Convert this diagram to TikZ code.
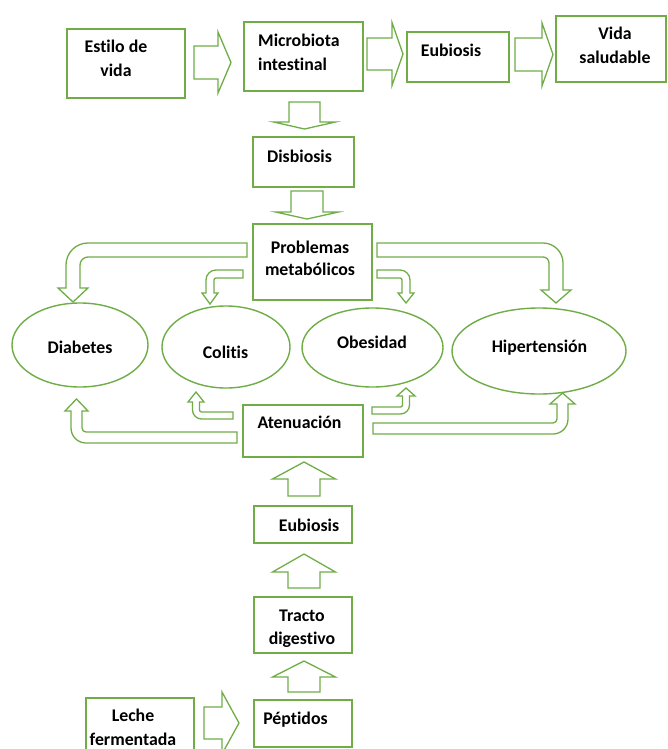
\documentclass[tikz,border=0pt]{standalone}
\usepackage{fontspec}
\setmainfont[Ligatures=NoCommon]{Carlito}
\usetikzlibrary{shapes.geometric}
\definecolor{gline}{RGB}{112,173,71}
\newcommand\myRArr[6]{\draw[blk] (#1,#4-#5) -- (#3,#4-#5) -- (#3,#4-#6) -- (#2,#4) -- (#3,#4+#6) -- (#3,#4+#5) -- (#1,#4+#5) -- cycle;}
\newcommand\myVArr[6]{\draw[blk] (#4-#5,#1) -- (#4-#5,#3) -- (#4-#6,#3) -- (#4,#2) -- (#4+#6,#3) -- (#4+#5,#3) -- (#4+#5,#1) -- cycle;}
\begin{document}
\begin{tikzpicture}[x=1pt,y=-1pt,
  box/.style={draw=gline,line width=1.5pt,fill=white},
  blk/.style={draw=gline,line width=1.3pt,line join=miter},
  ell/.style={draw=gline,line width=1.4pt,ellipse,inner sep=0pt},
  lbl/.style={font=\fontsize{17.8}{24}\selectfont\bfseries,inner sep=0pt,anchor=base,align=center},
  lbll/.style={font=\fontsize{17.8}{24}\selectfont\bfseries,inner sep=0pt,anchor=base west,align=left}]
\useasboundingbox (0,0) rectangle (667,749);
\clip (0,0) rectangle (667,749);
\fill[white] (0,0) rectangle (667,749);
% boxes
\draw[box] (67,29) rectangle (185,98) node[midway] (estbox) {};
\draw[box] (244,22) rectangle (363,91) node[midway] (micbox) {};
\draw[box] (407,32) rectangle (509,82) node[midway] (eub1box) {};
\draw[box] (556,16) rectangle (666,82) node[midway] (vidbox) {};
\draw[box] (253,137) rectangle (354,187) node[midway] (disbox) {};
\draw[box] (253,224) rectangle (372,300) node[midway] (probox) {};
\draw[box] (243,405) rectangle (363,457) node[midway] (atebox) {};
\draw[box] (254,506) rectangle (352,543) node[midway] (eub2box) {};
\draw[box] (254,597) rectangle (352,653) node[midway] (trabox) {};
\draw[box] (254,700) rectangle (352,747) node[midway] (pepbox) {};
\draw[box] (86,698) rectangle (194,770) node[midway] (lecbox) {};
% ellipses
\node[ell,minimum width=136pt,minimum height=84pt] (dia) at (80,345) {};
\node[ell,minimum width=128pt,minimum height=82pt] (col) at (226,347) {};
\node[ell,minimum width=141pt,minimum height=79pt] (obe) at (372.5,347.5) {};
\node[ell,minimum width=174pt,minimum height=86pt] (hip) at (539,351) {};
% labels (base anchor = last line baseline)
\node[lbl] (est) at (116,77) {Estilo de\\vida};
\node[lbll] (mic) at (258,71) {Microbiota\\intestinal};
\node[lbl] (eub1) at (451,57) {Eubiosis};
\node[lbl] (vid) at (615,64) {Vida\\saludable};
\node[lbl] (dis) at (299.5,162) {Disbiosis};
\node[lbl,font=\fontsize{17.8}{22}\selectfont\bfseries] (pro) at (310,275) {Problemas\\metabólicos};
\node[lbl] (diat) at (80,353) {Diabetes};
\node[lbl] (colt) at (225.5,358) {Colitis};
\node[lbl] (obet) at (372,348) {Obesidad};
\node[lbl] (hipt) at (539.5,352) {Hipertensión};
\node[lbl] (ate) at (299.5,428) {Atenuación};
\node[lbl] (eub2) at (309,531) {Eubiosis};
\node[lbl,font=\fontsize{17.8}{23}\selectfont\bfseries] (tra) at (302,644) {Tracto\\digestivo};
\node[lbl] (pep) at (295.5,724) {Péptidos};
\node[lbl] (lec) at (133,745.5) {Leche\\fermentada};
% straight block arrows
\myRArr{194}{231}{218}{62.5}{16.5}{30.5}
\myRArr{367}{403}{392}{54}{16}{31.5}
\myRArr{515}{553}{542}{54.5}{16.5}{31.5}
\myRArr{204}{239}{222}{723}{16}{31}
\myVArr{102}{129}{122}{304.5}{15.5}{31}
\myVArr{191}{219}{212}{307}{16}{31.5}
\myVArr{496}{462}{479}{304}{16}{31.5}
\myVArr{588}{554}{572}{304}{16}{31.5}
\myVArr{692}{661}{677}{304}{16}{31.5}
% bent arrows from Problemas
\draw[blk] (247,243) -- (88,243) .. controls (75.86,243) and (66,252.86) .. (66,265) -- (66,288) -- (58,288) -- (73,302) -- (88,288) -- (80,288) -- (80,265) .. controls (80,260.58) and (83.58,257) .. (88,257) -- (247,257) -- cycle;
\draw[blk] (243,270) -- (216,270) .. controls (210.48,270) and (206,274.48) .. (206,280) -- (206,293) -- (202,293) -- (210,304) -- (218,293) -- (214,293) -- (214,280) .. controls (214,278.9) and (214.9,278) .. (216,278) -- (243,278) -- cycle;
\draw[blk] (377,243) -- (543,243) .. controls (554.04,243) and (563,251.96) .. (563,263) -- (563,290) -- (571,290) -- (556,303) -- (541,290) -- (549,290) -- (549,263) .. controls (549,259.69) and (546.31,257) .. (543,257) -- (377,257) -- cycle;
\draw[blk] (377,270) -- (400,270) .. controls (405.52,270) and (410,274.48) .. (410,280) -- (410,293) -- (414,293) -- (406,303) -- (398,293) -- (402,293) -- (402,280) .. controls (402,278.9) and (401.1,278) .. (400,278) -- (377,278) -- cycle;
% bent arrows from Atenuacion
\draw[blk] (237,443) -- (86,443) .. controls (77.72,443) and (71,436.28) .. (71,428) -- (71,411) -- (65,411) -- (76.5,399) -- (88,411) -- (82,411) -- (82,428) .. controls (82,430.21) and (83.79,432) .. (86,432) -- (237,432) -- cycle;
\draw[blk] (233,419) -- (201.5,419) .. controls (196.53,419) and (192.5,414.97) .. (192.5,410) -- (192.5,402) -- (188,402) -- (196,392) -- (204,402) -- (199.5,402) -- (199.5,410) .. controls (199.5,411.1) and (200.4,412) .. (201.5,412) -- (233,412) -- cycle;
\draw[blk] (372,414) -- (400.5,414) .. controls (405.47,414) and (409.5,409.97) .. (409.5,405) -- (409.5,396) -- (415,396) -- (406,388) -- (397,396) -- (402.5,396) -- (402.5,405) .. controls (402.5,406.1) and (401.6,407) .. (400.5,407) -- (372,407) -- cycle;
\draw[blk] (373,434) -- (553,434) .. controls (561.28,434) and (568,427.28) .. (568,419) -- (568,404) -- (575,404) -- (562.5,393) -- (550,404) -- (557,404) -- (557,419) .. controls (557,421.21) and (555.21,423) .. (553,423) -- (373,423) -- cycle;
\end{tikzpicture}
\end{document}
